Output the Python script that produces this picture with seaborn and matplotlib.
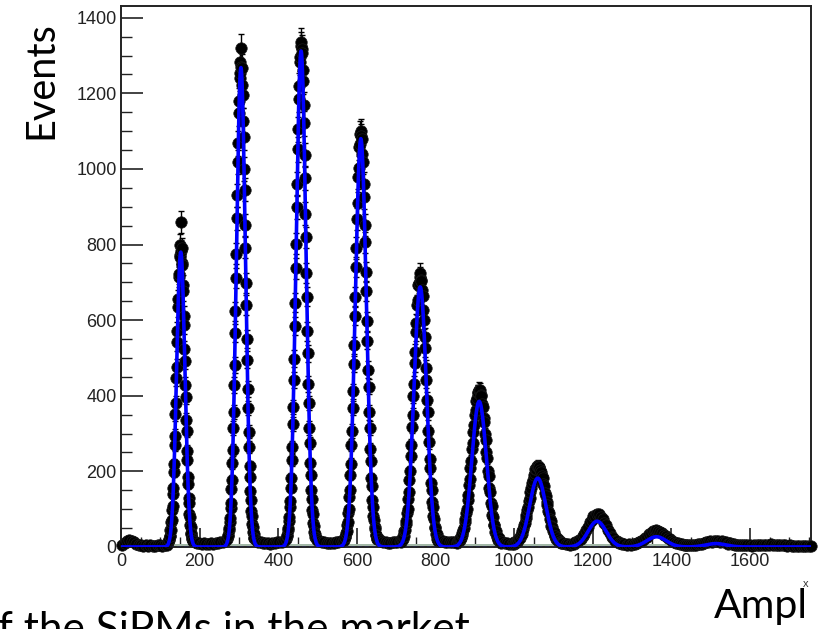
import numpy as np
import pandas as pd
import matplotlib
matplotlib.use("Agg")
import matplotlib.pyplot as plt
import seaborn as sns
from matplotlib.ticker import MultipleLocator

# ---------------- data ----------------
# Histogram segments: first bin centre (Ampl), bin width (Ampl), counts (Events)
ped_start, ped_width = 3, 6
ped_counts = [6, 10, 15, 18, 17, 12, 8, 5, 4, 3, 4, 3, 4, 3, 3, 4, 4, 3, 5, 6]

pe1_start, pe1_width = 120.5, 1.05
pe1_counts = [12, 19, 20, 29, 30, 44, 46, 65, 71, 97, 108, 141, 156, 198, 219, 270, 294, 352, 381, 447,
              476, 541, 570, 634, 655, 714, 722, 771, 768, 800, 860, 783, 790, 751, 745, 694, 676, 612,
              588, 523, 493, 428, 398, 336, 308, 255, 231, 185, 166, 130, 116, 88, 79, 58, 52, 37, 34,
              24, 22, 15, 15]

val1_start, val1_width = 187, 6
val1_counts = [13, 11, 10, 9, 10, 8, 9, 10, 9, 11, 10, 12, 13, 15]

pe2_start, pe2_width = 270.5, 1.15
pe2_counts = [20, 29, 31, 44, 49, 66, 77, 103, 117, 153, 178, 222, 256, 315, 357, 428, 481, 566, 624, 712,
              776, 869, 930, 1019, 1068, 1148, 1180, 1241, 1255, 1282, 1320, 1270, 1268, 1222, 1196, 1128,
              1084, 1001, 945, 852, 792, 699, 640, 551, 495, 418, 367, 305, 265, 214, 185, 147, 124, 96,
              83, 62, 54, 39, 34, 25, 23]

val2_start, val2_width = 343, 6
val2_counts = [18, 14, 12, 11, 10, 10, 9, 11, 10, 12, 12, 14, 17]

pe3_start, pe3_width = 420.5, 1.25
pe3_counts = [21, 30, 32, 45, 51, 69, 79, 106, 121, 157, 183, 230, 265, 325, 370, 441, 498, 585, 646, 737,
              802, 898, 961, 1052, 1105, 1186, 1220, 1283, 1295, 1326, 1335, 1317, 1306, 1262, 1233, 1168,
              1121, 1036, 976, 882, 819, 725, 662, 570, 512, 432, 381, 315, 275, 221, 191, 150, 128, 99,
              86, 63, 56, 40, 35, 26, 24]

val3_start, val3_width = 499, 6
val3_counts = [19, 15, 13, 12, 11, 10, 11, 10, 12, 13, 15, 17]

pe4_start, pe4_width = 568, 1.4
pe4_counts = [18, 26, 27, 38, 43, 59, 66, 89, 101, 132, 152, 191, 220, 270, 307, 367, 412, 484, 533, 612,
              661, 741, 791, 867, 909, 978, 1003, 1057, 1066, 1093, 1100, 1086, 1078, 1040, 1019, 961,
              925, 852, 806, 727, 677, 597, 546, 469, 424, 356, 315, 260, 228, 182, 160, 124, 107, 81,
              72, 52, 47, 33, 31, 21, 22]

val4_start, val4_width = 655, 6
val4_counts = [20, 17, 14, 12, 11, 11, 12, 13, 14, 16]

pe5_start, pe5_width = 713, 1.6
pe5_counts = [14, 21, 20, 28, 30, 41, 46, 60, 68, 89, 100, 128, 145, 178, 201, 241, 270, 318, 348, 400,
              431, 486, 515, 568, 592, 640, 653, 693, 697, 715, 725, 706, 703, 680, 664, 628, 601, 556,
              525, 474, 441, 389, 356, 306, 277, 232, 208, 170, 152, 120, 107, 82, 74, 54, 50, 35, 34,
              22, 24, 15, 18]

val5_start, val5_width = 812, 6
val5_counts = [17, 15, 13, 12, 12, 13, 14, 12]

pe6_start, pe6_width = 855.5, 1.85
pe6_counts = [11, 15, 17, 18, 24, 25, 33, 36, 46, 51, 65, 73, 91, 101, 124, 138, 163, 180, 208, 227,
              258, 276, 305, 323, 349, 363, 385, 393, 408, 409, 416, 414, 402, 399, 379, 370, 342, 330,
              298, 284, 250, 235, 201, 188, 156, 146, 117, 108, 84, 80, 59, 57, 40, 41, 27, 30, 18, 23,
              13, 17, 10]

val6_start, val6_width = 970, 6
val6_counts = [12, 10, 10, 9, 9]

pe7_start, pe7_width = 998.5, 2.05
pe7_counts = [9, 12, 11, 14, 14, 18, 19, 24, 25, 32, 35, 43, 48, 57, 64, 76, 84, 97, 107, 121, 130, 146,
              155, 169, 177, 190, 195, 205, 207, 213, 215, 211, 211, 203, 199, 188, 182, 167, 160, 144,
              136, 119, 111, 95, 89, 74, 68, 55, 52, 41, 39, 30, 29, 22, 23, 16, 18, 12, 14, 10, 11]

val7_start, val7_width = 1125, 6
val7_counts = [10, 8, 7]

pe8_start, pe8_width = 1142, 4.6
pe8_counts = [6, 9, 8, 12, 12, 18, 21, 29, 35, 46, 54, 65, 72, 81, 83, 88, 86, 79, 75, 63, 57, 45, 38,
              27, 24, 16, 15, 10, 11, 7, 8]

pe9_start, pe9_width = 1287, 5.0
pe9_counts = [4, 7, 5, 8, 7, 11, 12, 16, 18, 25, 27, 34, 36, 41, 41, 45, 43, 39, 38, 32, 30, 23, 21, 15,
              14, 10, 10, 7, 8, 5, 6]

pe10_start, pe10_width = 1438, 5.0
pe10_counts = [4, 6, 4, 5, 6, 5, 7, 8, 8, 10, 12, 12, 15, 14, 17, 15, 16, 14, 15, 12, 12, 9, 10, 7, 8,
               5, 6, 4, 6, 4, 5]

tail_start, tail_width = 1593, 6
tail_counts = [4, 4, 3, 5, 4, 4, 5, 6, 5, 6, 7, 6, 5, 6, 5, 4, 4, 3, 4, 3, 2, 3, 2, 3, 2, 2, 3, 2]

# Multi-Gaussian fit (blue curve): peak positions, heights, widths
fit_centers = [152, 305, 458, 610, 761, 911, 1060, 1211, 1362, 1513]
fit_heights = [780, 1268, 1312, 1080, 688, 385, 182, 68, 27, 9]
fit_sigmas = [10.5, 11.5, 12.5, 14, 16, 18.5, 20.5, 23, 25, 25]

x_range = (0, 1755)
y_range = (0, 1431)
y_major, y_minor = 200, 50
x_major, x_minor = 200, 50

# ---------------- build tables ----------------
segments = [
    (ped_start, ped_width, ped_counts), (pe1_start, pe1_width, pe1_counts),
    (val1_start, val1_width, val1_counts), (pe2_start, pe2_width, pe2_counts),
    (val2_start, val2_width, val2_counts), (pe3_start, pe3_width, pe3_counts),
    (val3_start, val3_width, val3_counts), (pe4_start, pe4_width, pe4_counts),
    (val4_start, val4_width, val4_counts), (pe5_start, pe5_width, pe5_counts),
    (val5_start, val5_width, val5_counts), (pe6_start, pe6_width, pe6_counts),
    (val6_start, val6_width, val6_counts), (pe7_start, pe7_width, pe7_counts),
    (val7_start, val7_width, val7_counts), (pe8_start, pe8_width, pe8_counts),
    (pe9_start, pe9_width, pe9_counts), (pe10_start, pe10_width, pe10_counts),
    (tail_start, tail_width, tail_counts),
]
xs, ys = [], []
for start, width, counts in segments:
    xs.append(start + width * np.arange(len(counts)))
    ys.append(np.asarray(counts, dtype=float))
hist = pd.DataFrame({"Ampl": np.concatenate(xs), "Events": np.concatenate(ys)})
hist["err"] = np.sqrt(hist["Events"])

grid = np.linspace(x_range[0], x_range[1], 5000)
fit_vals = np.zeros_like(grid)
for c, h, s in zip(fit_centers, fit_heights, fit_sigmas):
    fit_vals += h * np.exp(-0.5 * ((grid - c) / s) ** 2)
fit = pd.DataFrame({"Ampl": grid, "Events": fit_vals})

# ---------------- plot ----------------
sns.set_theme(style="ticks")
plt.rcParams["font.family"] = ["Liberation Sans", "DejaVu Sans"]

fig = plt.figure(figsize=(8.22, 6.29), dpi=100)
ax = fig.add_axes([0.1472, 0.1304, 0.8394, 0.8601])

ax.axhspan(0, 9, color="#a3b8a8", lw=0, zorder=1)
ax.errorbar(hist["Ampl"], hist["Events"], yerr=hist["err"], fmt="none",
            ecolor="black", elinewidth=1.0, capsize=2.5, capthick=1.0, zorder=2)
sns.scatterplot(data=hist, x="Ampl", y="Events", ax=ax, color="black", s=68,
                edgecolor="#1a1a1a", linewidth=0.5, zorder=3, clip_on=False, legend=False)
sns.lineplot(data=fit, x="Ampl", y="Events", ax=ax, color="#0000ff", lw=2.6,
             zorder=4, estimator=None, sort=False)
ax.axhline(0, color="#2a2aa8", lw=1.0, ls=(0, (3, 2)), zorder=5)

ax.set_xlim(*x_range)
ax.set_ylim(*y_range)
ax.set_xlabel("")
ax.set_ylabel("")
ax.xaxis.set_major_locator(MultipleLocator(x_major))
ax.xaxis.set_minor_locator(MultipleLocator(x_minor))
ax.yaxis.set_major_locator(MultipleLocator(y_major))
ax.yaxis.set_minor_locator(MultipleLocator(y_minor))

ax.tick_params(axis="y", which="major", direction="in", length=16, width=1.2,
               labelsize=13, pad=3, labelcolor="#222222", color="#222222")
ax.tick_params(axis="y", which="minor", direction="in", length=8, width=1.0, color="#222222")
ax.tick_params(axis="x", which="major", direction="in", length=14, width=1.2,
               labelsize=13, pad=4, labelcolor="#222222", color="#222222")
ax.tick_params(axis="x", which="minor", direction="in", length=7, width=1.0, color="#222222")
for sp in ax.spines.values():
    sp.set_visible(True)
    sp.set_color("#222222")
    sp.set_linewidth(1.4)

fig.text(52 / 822, 1 - 80 / 629, "Events", rotation=90, rotation_mode="anchor",
         ha="center", va="baseline", fontsize=28.5, family=["Lato", "DejaVu Sans"], color="black")
fig.text(808 / 822, 1 - 618 / 629, "Ampl", ha="right", va="baseline",
         fontsize=29.5, family=["Lato", "DejaVu Sans"], color="black")
fig.text(806 / 822, 1 - 584 / 629, "x", ha="center", va="center", fontsize=8, color="#333333")
fig.text(470 / 822, 1 - 642 / 629, "f the SiPMs in the market", ha="right", va="baseline",
         fontsize=30.5, family=["Lato", "DejaVu Sans"], color="black")

fig.savefig("out.png", dpi=100)
